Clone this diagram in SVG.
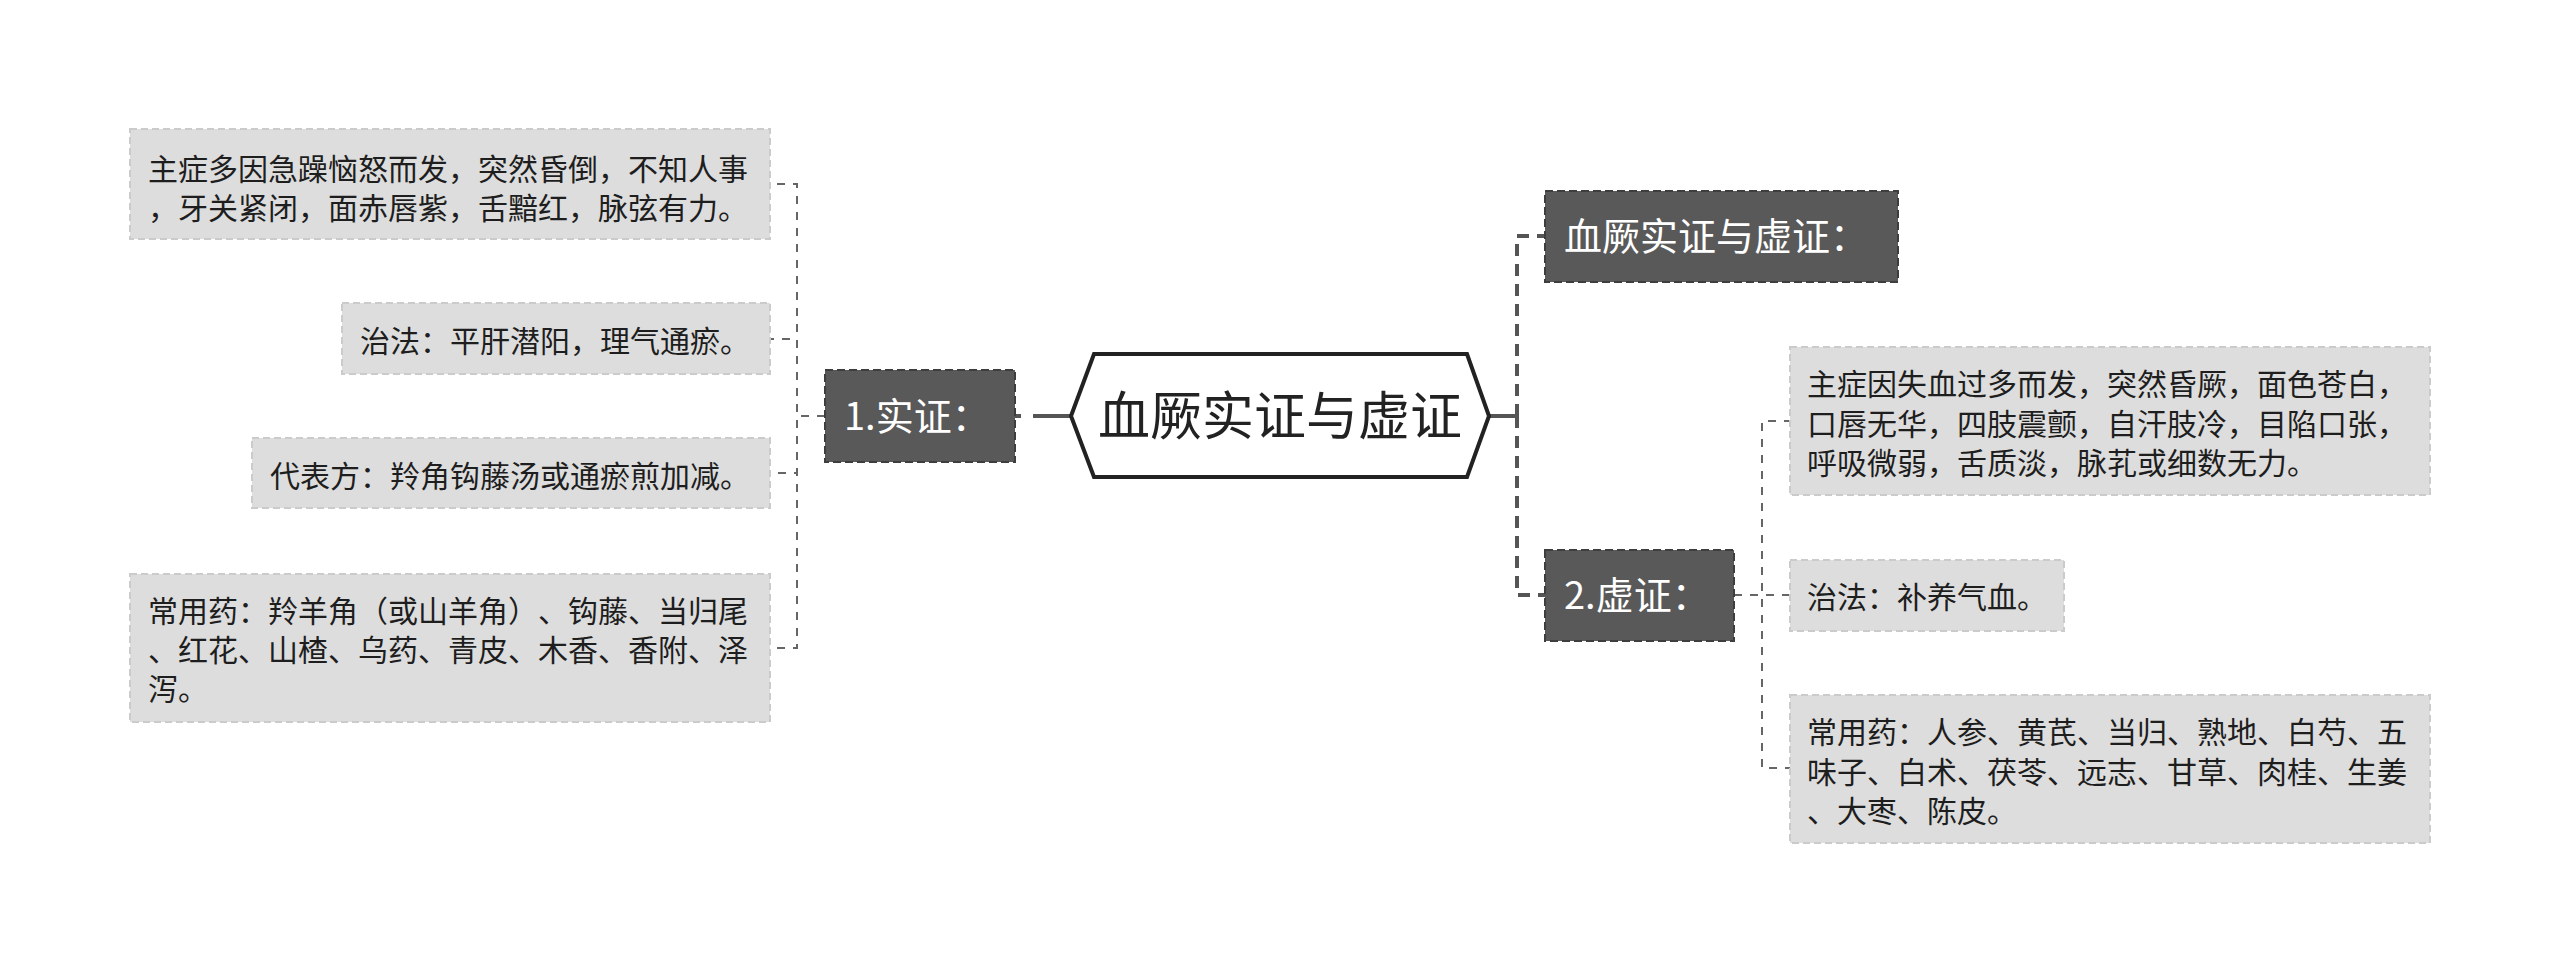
<svg xmlns="http://www.w3.org/2000/svg" width="2560" height="974" viewBox="0 0 2560 974">
<style>
text{font-family:"Noto Sans CJK SC","Noto Sans",sans-serif;text-spacing-trim:space-all}
.leaf rect{fill:#dddddd;stroke:#cbcbcb;stroke-width:2;stroke-dasharray:7 4}
.leaf text{font-size:30px;fill:#1e1e1e}
.dark rect{fill:#595959;stroke:#3e3e3e;stroke-width:2;stroke-dasharray:8 4}
.dark text{font-size:38px;fill:#ffffff}
.c1{fill:none;stroke:#555555;stroke-width:4}
.c2{fill:none;stroke:#666666;stroke-width:2;stroke-dasharray:8 8}
</style>
<rect width="2560" height="974" fill="#ffffff"/>
<g id="connectors">
<path class="c1" d="M1071,416 H1015" stroke-dasharray="38 12 6 100"/>
<path class="c2" d="M825,416 H797 V184 H770"/>
<path class="c2" d="M825,416 H797 V339 H770"/>
<path class="c2" d="M825,416 H797 V473 H770"/>
<path class="c2" d="M825,416 H797 V648 H770"/>
<path class="c1" d="M1489,416 H1517"/>
<path class="c1" d="M1517,416 V236 H1545" stroke-dasharray="12 8"/>
<path class="c1" d="M1517,416 V595 H1545" stroke-dasharray="12 8"/>
<path class="c2" d="M1734,595 H1762 V421 H1790"/>
<path class="c2" d="M1734,595 H1790"/>
<path class="c2" d="M1734,595 H1762 V768 H1790"/>
</g>
<g id="root">
<polygon points="1071,416 1094,354 1467,354 1489,416 1467,477 1094,477" fill="#ffffff" stroke="#222222" stroke-width="4"/>
<text x="1280" y="435" font-size="52" fill="#222222" text-anchor="middle">血厥实证与虚证</text>
</g>
<g id="n-shizheng" class="dark">
<rect x="825" y="370" width="190" height="92"/>
<text x="844" y="430">1.实证：</text>
</g>
<g id="n-a" class="leaf">
<rect x="130" y="129" width="640" height="110"/>
<text x="148" y="180">主症多因急躁恼怒而发，突然昏倒，不知人事</text>
<text x="148" y="219">，牙关紧闭，面赤唇紫，舌黯红，脉弦有力。</text>
</g>
<g id="n-b" class="leaf">
<rect x="342" y="303" width="428" height="71"/>
<text x="360" y="352">治法：平肝潜阳，理气通瘀。</text>
</g>
<g id="n-c" class="leaf">
<rect x="252" y="438" width="518" height="70"/>
<text x="270" y="487">代表方：羚角钩藤汤或通瘀煎加减。</text>
</g>
<g id="n-d" class="leaf">
<rect x="130" y="574" width="640" height="148"/>
<text x="148" y="622">常用药：羚羊角（或山羊角）、钩藤、当归尾</text>
<text x="148" y="661">、红花、山楂、乌药、青皮、木香、香附、泽</text>
<text x="148" y="700">泻。</text>
</g>
<g id="n-title" class="dark">
<rect x="1545" y="191" width="353" height="91"/>
<text x="1564" y="250">血厥实证与虚证：</text>
</g>
<g id="n-xuzheng" class="dark">
<rect x="1545" y="550" width="189" height="91"/>
<text x="1564" y="609">2.虚证：</text>
</g>
<g id="n-e" class="leaf">
<rect x="1790" y="347" width="640" height="148"/>
<text x="1807" y="395">主症因失血过多而发，突然昏厥，面色苍白，</text>
<text x="1807" y="435">口唇无华，四肢震颤，自汗肢冷，目陷口张，</text>
<text x="1807" y="474">呼吸微弱，舌质淡，脉芤或细数无力。</text>
</g>
<g id="n-f" class="leaf">
<rect x="1790" y="560" width="274" height="71"/>
<text x="1807" y="608">治法：补养气血。</text>
</g>
<g id="n-g" class="leaf">
<rect x="1790" y="695" width="640" height="148"/>
<text x="1807" y="743">常用药：人参、黄芪、当归、熟地、白芍、五</text>
<text x="1807" y="783">味子、白术、茯苓、远志、甘草、肉桂、生姜</text>
<text x="1807" y="822">、大枣、陈皮。</text>
</g>
</svg>
